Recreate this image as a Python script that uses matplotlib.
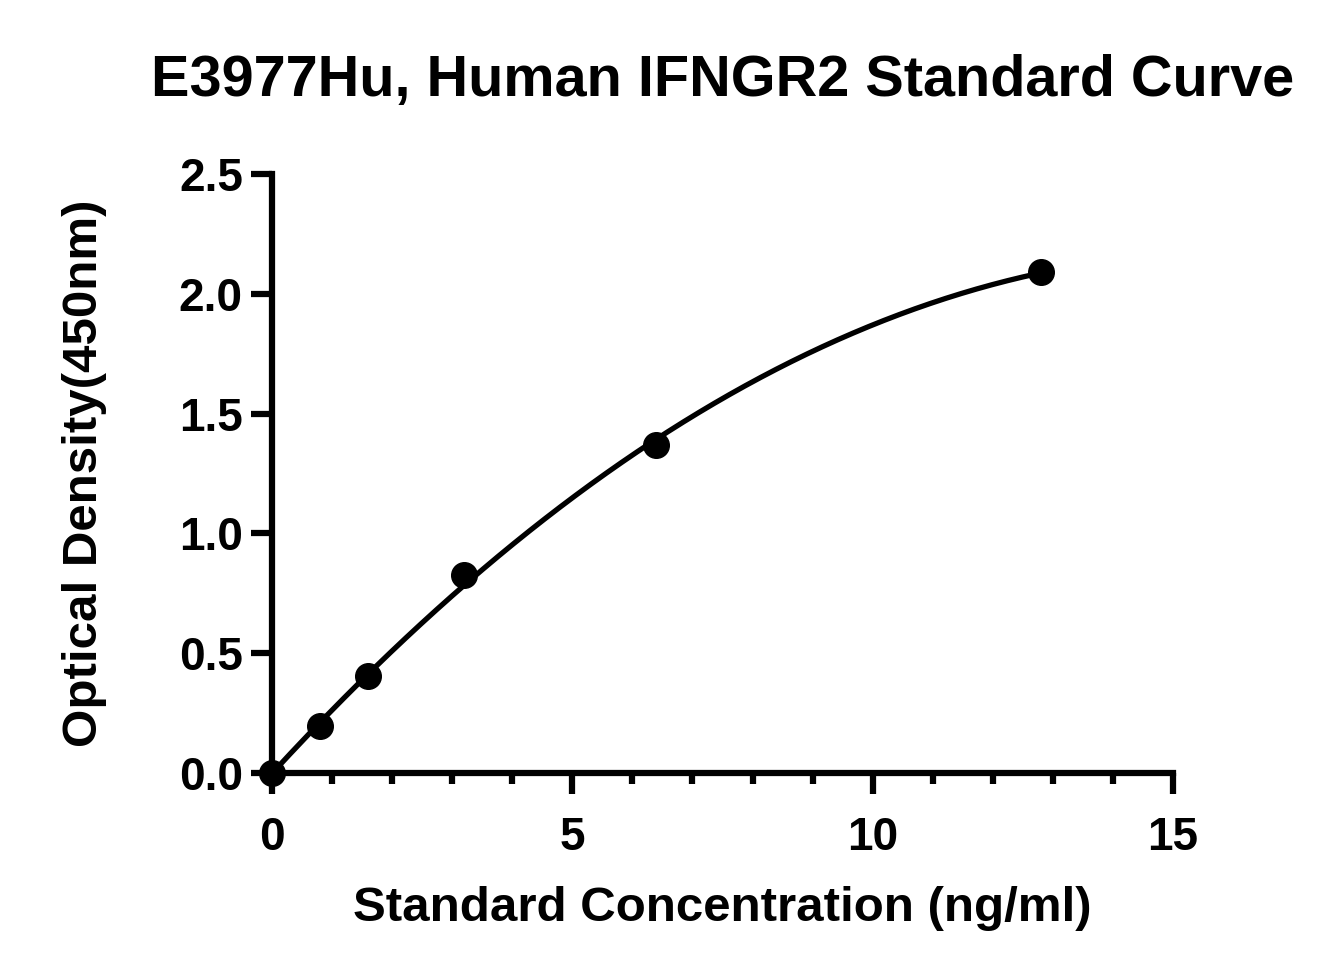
import matplotlib
matplotlib.use("Agg")
import matplotlib.pyplot as plt
import numpy as np
from matplotlib.ticker import MultipleLocator

plt.rcParams["font.family"] = ["Liberation Sans", "DejaVu Sans"]
plt.rcParams["font.weight"] = "bold"

title = "E3977Hu, Human IFNGR2 Standard Curve"
xlabel = "Standard Concentration (ng/ml)"
ylabel = "Optical Density(450nm)"

conc = [0.0, 0.8, 1.6, 3.2, 6.4, 12.8]
od = [0.0, 0.196, 0.405, 0.826, 1.369, 2.091]

# smooth fitted line through the standards
coef = np.polyfit(conc, od, 2)
xs = np.linspace(0, max(conc), 300)
ys = np.polyval(coef, xs)

fig = plt.figure(figsize=(13.38, 9.75), dpi=100)
ax = fig.add_axes([0.2033, 0.2072, 0.6734, 0.6143])

ax.plot(xs, ys, color="black", lw=3.8, zorder=2)
ax.scatter(conc, od, s=340, color="black", zorder=3, clip_on=False)

ax.set_xlim(0, 15)
ax.set_ylim(0, 2.5)
ax.xaxis.set_major_locator(MultipleLocator(5))
ax.xaxis.set_minor_locator(MultipleLocator(1))
ax.yaxis.set_major_locator(MultipleLocator(0.5))
ax.yaxis.set_major_formatter(plt.FormatStrFormatter("%.1f"))

for s in ["top", "right"]:
    ax.spines[s].set_visible(False)
for s in ["left", "bottom"]:
    ax.spines[s].set_linewidth(4.5)

ax.tick_params(axis="both", which="major", width=4.5, length=15, labelsize=33, pad=6)
ax.tick_params(axis="x", which="major", pad=16)
ax.tick_params(axis="x", which="minor", width=4.5, length=8)

ax.set_xlabel(xlabel, fontsize=35.5, fontweight="bold", labelpad=19)
ax.set_ylabel(ylabel, fontsize=35.5, fontweight="bold", labelpad=52)
fig.suptitle(title, fontsize=41.5, fontweight="bold", x=0.54, y=0.945)

fig.savefig("out.png", dpi=100)
